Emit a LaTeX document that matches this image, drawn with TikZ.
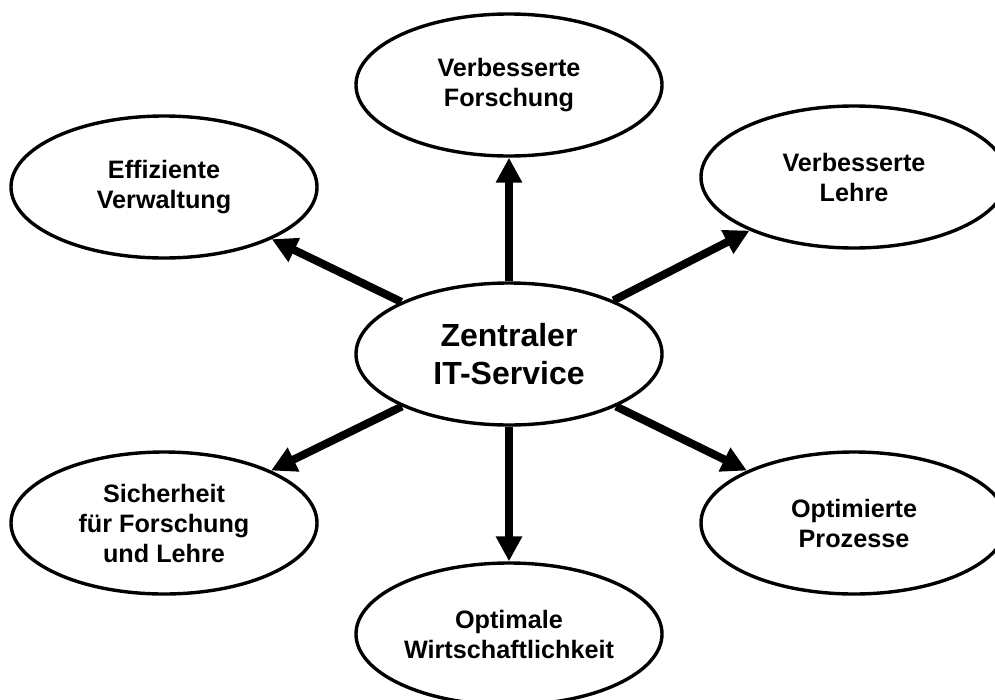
\documentclass[tikz,border=0pt]{standalone}
\usepackage{fontspec}
\setmainfont{Liberation Sans}
\usetikzlibrary{shapes.geometric,arrows.meta}
\tikzset{
  goal/.style={ellipse, draw=black, line width=3.4pt, fill=white, minimum width=306pt, minimum height=142pt, inner sep=0pt, align=center, font=\fontsize{25.2pt}{30pt}\selectfont\bfseries},
  hub/.style={goal, font=\fontsize{32pt}{38pt}\selectfont\bfseries},
  fat/.style={line width=8pt, -{Triangle[length=25pt,width=25pt]}}
}
\begin{document}
\begin{tikzpicture}[x=1pt,y=-1pt]
\useasboundingbox (0,0) rectangle (995,699);
\node[hub] (c) at (509,354) {Zentraler\\IT-Service};
\node[goal] (f) at (509,85) {Verbesserte\\Forschung};
\node[goal] (l) at (854,177) {Verbesserte\\Lehre};
\node[goal] (v) at (164,187) {Effiziente\\Verwaltung};
\node[goal] (s) at (164,523) {Sicherheit\\für Forschung\\und Lehre};
\node[goal] (p) at (854,523) {Optimierte\\Prozesse};
\node[goal] (w) at (509,634) {Optimale\\Wirtschaftlichkeit};
\draw[fat] (c) -- (f);
\draw[fat] (c) -- (l);
\draw[fat] (c) -- (v);
\draw[fat] (c) -- (s);
\draw[fat] (c) -- (p);
\draw[fat] (c) -- (w);
\end{tikzpicture}
\end{document}
